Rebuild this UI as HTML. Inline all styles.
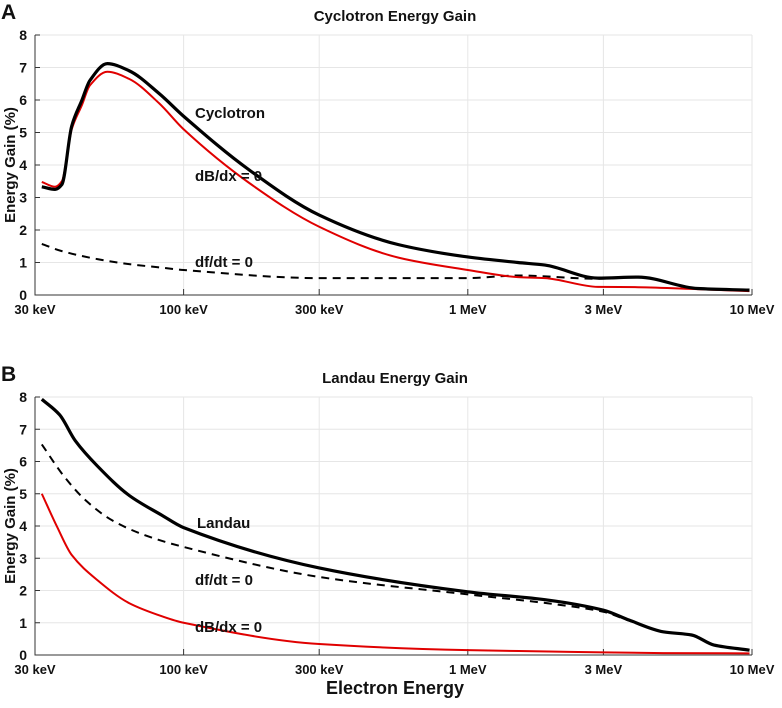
<!DOCTYPE html>
<html><head><meta charset="utf-8"><style>
body{margin:0;background:#fff}
text{font-family:"Liberation Sans",Arial,sans-serif;font-weight:bold;fill:#111}
</style></head><body>
<svg id="fig" width="782" height="703" xmlns="http://www.w3.org/2000/svg"></svg>
<script>
const xTicks=[30,100,300,1000,3000,10000];
const xTickLabels=["30 keV","100 keV","300 keV","1 MeV","3 MeV","10 MeV"];
const yTicks=[0,1,2,3,4,5,6,7,8];
// Panel A
const aE=[31.7,35.3,37.3,40.4,43.9,46.8,53.9,64.3,82,100,170,300,570,1000,1500,1870,2870,3980,6430,9800];
const aCyc=[3.33,3.25,3.4,5.2,6.0,6.6,7.12,6.9,6.2,5.5,3.85,2.46,1.55,1.17,1.0,0.92,0.52,0.55,0.2,0.15];
const aDB=[3.48,3.33,3.5,5.1,5.85,6.45,6.87,6.65,5.9,5.1,3.45,2.1,1.15,0.77,0.55,0.52,0.25,0.24,0.18,0.12];
const aDfE=[31.7,37.3,50,64.3,82,100,300,1000,1500,2870,3980,6430,9800];
const aDf=[1.57,1.35,1.1,0.95,0.85,0.77,0.52,0.52,0.6,0.5,0.55,0.2,0.15];
// Panel B
const bLanE=[31.7,36.6,41.6,49.6,64.3,84,100,300,1000,1923,3000,3700,4870,6130,7350,9800];
const bLan=[7.93,7.45,6.64,5.87,4.95,4.33,3.95,2.7,1.96,1.7,1.39,1.08,0.72,0.62,0.31,0.15];
const bDfE=[31.7,37.8,45.3,56.2,73.3,100,300,1000,1923,3000,3700,4870,6130,7350,9800];
const bDf=[6.53,5.56,4.79,4.17,3.71,3.35,2.42,1.88,1.6,1.34,1.06,0.72,0.62,0.31,0.15];
const bDBE=[31.7,35.9,40.4,49.6,64.3,84,100,300,1000,1923,3000,4870,9800];
const bDB=[5.0,3.97,3.1,2.33,1.61,1.2,1.0,0.34,0.15,0.11,0.08,0.06,0.05];

const NS="http://www.w3.org/2000/svg";
const svg=document.getElementById('fig');
function mk(tag,attrs,parent){const e=document.createElementNS(NS,tag);for(const k in attrs)e.setAttribute(k,attrs[k]);(parent||svg).appendChild(e);return e;}
const X0=35,X1=752;
function xs(e){return X0+(Math.log10(e/30))/Math.log10(10000/30)*(X1-X0);}
function pathOf(xsArr,ysArr,yfn){
  const p=xsArr.map((e,i)=>[xs(e),yfn(ysArr[i])]);
  const n=p.length,d=[],m=new Array(n);
  for(let i=0;i<n-1;i++)d.push((p[i+1][1]-p[i][1])/(p[i+1][0]-p[i][0]));
  m[0]=d[0];m[n-1]=d[n-2];
  for(let i=1;i<n-1;i++){m[i]=(d[i-1]*d[i]<=0)?0:2/(1/d[i-1]+1/d[i]);}
  let s="M"+p[0][0]+","+p[0][1];
  for(let i=0;i<n-1;i++){
    const h=(p[i+1][0]-p[i][0])/3;
    s+=" C"+(p[i][0]+h)+","+(p[i][1]+m[i]*h)+" "+(p[i+1][0]-h)+","+(p[i+1][1]-m[i+1]*h)+" "+p[i+1][0]+","+p[i+1][1];
  }
  return s;
}
function panel(id,letter,title,yTop,yBot,series,labels,xlabel){
  const g=mk('g',{});
  
  
  const ys=v=>yBot-v/8*(yBot-yTop);
  yTicks.forEach(t=>{const l=mk('line',{x1:X0,x2:X1,y1:ys(t),y2:ys(t),stroke:'#e6e6e6','stroke-width':1},g);
    
    const tx=mk('text',{x:X0-8,y:ys(t)+5,'text-anchor':'end','font-size':14},g);tx.textContent=t;
    
    mk('line',{x1:X0,x2:X0+5,y1:ys(t),y2:ys(t),stroke:'#333'},g);});
  xTicks.forEach((t,i)=>{const x=xs(t);const l=mk('line',{x1:x,x2:x,y1:yTop,y2:yBot,stroke:'#e6e6e6','stroke-width':1},g);
    
    mk('line',{x1:x,x2:x,y1:yBot,y2:yBot-6,stroke:'#333'},g);
    const tx=mk('text',{x:x,y:yBot+19,'text-anchor':'middle','font-size':13},g);tx.textContent=xTickLabels[i];
    });
  const ax=mk('path',{d:`M${X0},${yTop} V${yBot} H${X1}`,fill:'none',stroke:'#333','stroke-width':1},g);
  
  series.forEach(s=>{const p=mk('path',{d:pathOf(s.e,s.v,ys),fill:'none',stroke:s.c,'stroke-width':s.w,'stroke-dasharray':s.dash||'none'},g);
    });
  labels.forEach(l=>{const t=mk('text',{x:l[1],y:l[2],'font-size':15},g);t.textContent=l[0];
    });
  const tt=mk('text',{x:395,y:yTop-14,'text-anchor':'middle','font-size':15},g);tt.textContent=title;
  
  const lt=mk('text',{x:1,y:yTop-16,'font-size':21},g);lt.textContent=letter;
  
  const yt=mk('text',{transform:`translate(15,${(yTop+yBot)/2}) rotate(-90)`,'text-anchor':'middle','font-size':15},g);yt.textContent='Energy Gain (%)';
  
  if(xlabel){const xl=mk('text',{x:395,y:yBot+39,'text-anchor':'middle','font-size':18},g);xl.textContent=xlabel;
    }
}
panel('panel-a','A','Cyclotron Energy Gain',35,295,[
  {e:aDfE,v:aDf,c:'#000',w:2,dash:'8,6',name:'df-dt-zero-line'},
  {e:aE,v:aDB,c:'#e00000',w:2,name:'dB-dx-zero-line'},
  {e:aE,v:aCyc,c:'#000',w:3.2,name:'cyclotron-line'}],
  [['Cyclotron',195,118],['dB/dx = 0',195,181],['df/dt = 0',195,267]]);
panel('panel-b','B','Landau Energy Gain',397,655,[
  {e:bDfE,v:bDf,c:'#000',w:2,dash:'8,6',name:'df-dt-zero-line'},
  {e:bDBE,v:bDB,c:'#e00000',w:2,name:'dB-dx-zero-line'},
  {e:bLanE,v:bLan,c:'#000',w:3.2,name:'landau-line'}],
  [['Landau',197,528],['df/dt = 0',195,585],['dB/dx = 0',195,632]],'Electron Energy');
</script>
</body></html>
